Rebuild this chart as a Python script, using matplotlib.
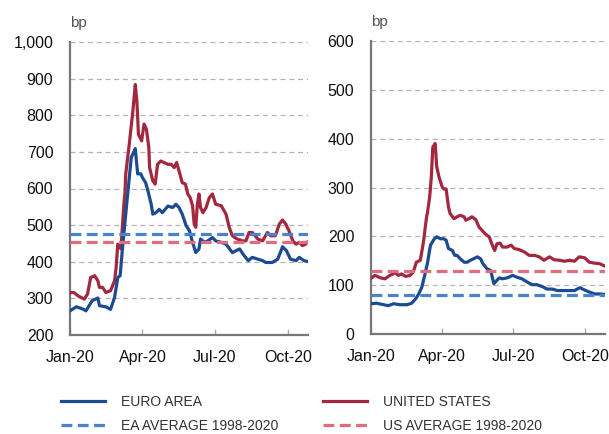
import numpy as np
import matplotlib
matplotlib.use("Agg")
import matplotlib.pyplot as plt
import matplotlib.dates as mdates

# ---------------- data (days since 1 Jan 2020) ----------------
ea_hy_days = [0, 8, 16, 20, 28, 35, 37, 45, 51, 56, 60, 63, 66, 72, 77, 79, 82, 85, 89, 91,
              95, 98, 102, 104, 108, 112, 116, 123, 129, 133, 137, 141, 146, 150, 154, 158, 162, 164, 169, 173,
              179, 183, 190, 196, 204, 213, 219, 224, 229, 236, 242, 246, 254, 261, 267, 272, 277, 284, 288, 294, 298]
ea_hy = [266, 277, 271, 266, 294, 301, 280, 277, 270, 303, 357, 362, 439, 575, 685, 694, 709, 640, 640, 630,
         616, 593, 557, 530, 534, 543, 534, 552, 548, 557, 548, 530, 498, 485, 453, 425, 435, 462, 453, 457,
         466, 457, 453, 448, 425, 435, 416, 403, 412, 407, 403, 398, 398, 407, 441, 430, 407, 403, 412, 403, 401]

us_hy_days = [0, 5, 10, 18, 22, 26, 31, 35, 37, 41, 45, 51, 56, 58, 60, 64, 66, 68, 69, 70,
              74, 79, 82, 84, 86, 90, 93, 96, 99, 100, 104, 107, 110, 114, 118, 123, 127, 131, 134, 137,
              141, 145, 148, 151, 154, 156, 158, 160, 162, 164, 167, 171, 175, 179, 183, 190, 196, 200, 204, 210,
              217, 221, 225, 229, 236, 242, 248, 252, 258, 263, 267, 271, 275, 280, 284, 288, 292, 296, 298]
us_hy = [316, 316, 307, 298, 312, 357, 362, 348, 330, 330, 316, 321, 348, 385, 448, 435, 503, 566, 585, 639,
         712, 812, 884, 839, 748, 730, 776, 762, 712, 657, 621, 612, 666, 675, 671, 666, 666, 657, 671, 648,
         616, 612, 585, 575, 553, 503, 494, 557, 585, 548, 534, 548, 575, 585, 557, 553, 530, 494, 471, 462,
         457, 457, 480, 480, 462, 457, 480, 471, 471, 503, 514, 503, 485, 457, 448, 453, 444, 448, 453]

ea_ig_days = [0, 7, 16, 22, 29, 37, 46, 52, 57, 61, 65, 69, 72, 76, 81, 84, 89, 93, 96, 99,
              104, 107, 110, 114, 119, 123, 127, 131, 136, 140, 143, 148, 153, 155, 157, 161, 164, 168, 174, 181,
              187, 193, 200, 206, 212, 219, 225, 232, 238, 245, 251, 260, 267, 273, 279, 286, 292, 299]
ea_ig = [62, 63, 60, 58, 62, 60, 60, 63, 72, 82, 96, 123, 144, 182, 195, 199, 195, 195, 192, 175,
         171, 161, 161, 154, 147, 147, 151, 154, 158, 154, 144, 134, 130, 116, 103, 110, 115, 113, 115, 120,
         116, 113, 106, 101, 101, 97, 92, 92, 89, 89, 89, 89, 95, 90, 86, 82, 82, 81]

us_ig_days = [0, 5, 12, 18, 24, 31, 35, 39, 44, 50, 54, 58, 63, 67, 71, 72, 75, 77,
              79, 82, 84, 87, 91, 93, 96, 99, 101, 106, 110, 114, 119, 121, 125, 129, 134,
              138, 142, 146, 151, 155, 158, 161, 165, 168, 174, 179, 183, 189, 196, 202, 209, 215, 221, 228, 234,
              241, 247, 254, 260, 266, 273, 279, 286, 292, 299]
us_ig = [114, 120, 115, 113, 120, 125, 120, 123, 118, 120, 127, 147, 151, 188, 240, 247, 281, 320,
         383, 390, 342, 321, 301, 297, 297, 260, 247, 236, 240, 243, 240, 233, 236, 240, 234,
         219, 212, 205, 199, 182, 171, 185, 186, 178, 178, 182, 175, 173, 168, 161, 161, 158, 151, 158, 152,
         151, 149, 151, 149, 158, 156, 147, 145, 144, 139]

ea_hy_avg = 475
us_hy_avg = 455
ea_ig_avg = 80
us_ig_avg = 128

labels = ["EURO AREA", "EA AVERAGE 1998-2020", "UNITED STATES", "US AVERAGE 1998-2020"]
x_ticks = ["2020-01-01", "2020-04-01", "2020-07-01", "2020-10-01"]

# ---------------- style ----------------
C_EA = "#1c4b92"
C_US = "#a3283f"
C_EA_AVG = "#4a82cc"
C_US_AVG = "#e06c7e"
SPINE = "#77777b"
GRID = "#b4b4b4"

plt.rcParams["font.family"] = ["Liberation Sans", "DejaVu Sans"]

base = np.datetime64("2020-01-01")
def to_dates(days):
    return base + np.array(days, dtype="timedelta64[D]")

fig = plt.figure(figsize=(6.09, 4.34), dpi=100)
axL = fig.add_axes([70/609, 1-335/434, 238/609, 293/434])
axR = fig.add_axes([371/609, 1-334/434, 234/609, 293/434])

def style(ax, ylim, yticks, fmt):
    ax.set_ylim(*ylim)
    ax.set_yticks(yticks)
    ax.set_yticklabels([fmt(v) for v in yticks])
    ax.set_xlim(base, base + np.timedelta64(299, "D"))
    ax.set_xticks([np.datetime64(d) for d in x_ticks])
    ax.xaxis.set_major_formatter(mdates.DateFormatter("%b-%y"))
    for s in ["top", "right"]:
        ax.spines[s].set_visible(False)
    for s in ["left", "bottom"]:
        ax.spines[s].set_color(SPINE)
        ax.spines[s].set_linewidth(1.6)
    ax.tick_params(axis="y", length=0, pad=12, labelsize=11.5, colors="#111111")
    ax.tick_params(axis="x", direction="in", length=4, width=1, color="#aaaaaa",
                   pad=11, labelsize=11.5, labelcolor="#111111")
    ax.yaxis.grid(True, linestyle=(0, (4, 3)), color=GRID, linewidth=0.9)
    ax.set_axisbelow(True)
    ax.text(0.0, 1.04, "bp", transform=ax.transAxes, fontsize=11, color="#555555",
            ha="left", va="bottom")

lw = 2.3
dash = (0, (3.4, 1.7))
l1, = axL.plot(to_dates(ea_hy_days), ea_hy, color=C_EA, lw=lw, zorder=4)
l3, = axL.plot(to_dates(us_hy_days), us_hy, color=C_US, lw=lw, zorder=3)
l2 = axL.axhline(ea_hy_avg, color=C_EA_AVG, lw=lw, linestyle=dash, zorder=5)
l4 = axL.axhline(us_hy_avg, color=C_US_AVG, lw=lw, linestyle=dash, zorder=5)

axR.plot(to_dates(us_ig_days), us_ig, color=C_US, lw=lw, zorder=3)
axR.plot(to_dates(ea_ig_days), ea_ig, color=C_EA, lw=lw, zorder=4)
axR.axhline(us_ig_avg, color=C_US_AVG, lw=lw, linestyle=dash, zorder=5)
axR.axhline(ea_ig_avg, color=C_EA_AVG, lw=lw, linestyle=dash, zorder=5)

style(axL, (200, 1000), list(range(200, 1001, 100)), lambda v: f"{v:,}")
style(axR, (0, 600), list(range(0, 601, 100)), lambda v: f"{v}")

leg_font = {"family": ["Liberation Sans Narrow", "Liberation Sans", "DejaVu Sans"], "size": 10}
for hs, labs, x0 in [([l1, l2], labels[:2], 61/609), ([l3, l4], labels[2:], 323/609)]:
    fig.legend(hs, labs, loc="upper left", bbox_to_anchor=(x0, 1-395/434),
               frameon=False, prop=leg_font, handlelength=3.2, handletextpad=1.1,
               labelspacing=0.7, borderpad=0, borderaxespad=0, labelcolor="#333333")

fig.savefig("out.png", dpi=100)
